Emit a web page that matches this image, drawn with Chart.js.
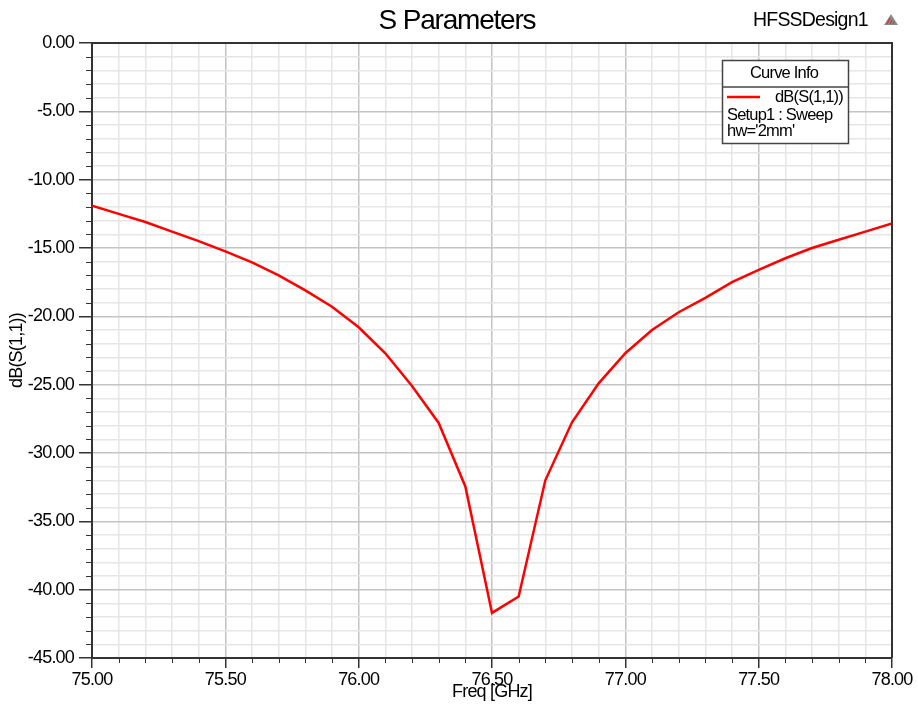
<!DOCTYPE html>
<html>
<head>
<meta charset="utf-8">
<title>S Parameters</title>
<script src="https://cdn.jsdelivr.net/npm/chart.js@4.4.1/dist/chart.umd.min.js"></script>
<style>
  html, body { margin: 0; padding: 0; background: #fff; }
  #chart { display: block; }
</style>
</head>
<body>
<canvas id="chart" width="918" height="704"></canvas>
<script>
// sweep points (GHz) and return loss (dB)
const freqGHz = [75.0, 75.1, 75.2, 75.3, 75.4, 75.5, 75.6, 75.7, 75.8, 75.9,
                 76.0, 76.1, 76.2, 76.3, 76.4, 76.5, 76.6, 76.7, 76.8, 76.9,
                 77.0, 77.1, 77.2, 77.3, 77.4, 77.5, 77.6, 77.7, 77.8, 77.9, 78.0];
const s11dB = [-11.9, -12.5, -13.1, -13.8, -14.5, -15.25, -16.05, -17.0, -18.1, -19.3,
               -20.8, -22.7, -25.1, -27.8, -32.45, -41.7, -40.5, -32.0, -27.75, -24.9,
               -22.7, -21.0, -19.7, -18.65, -17.5, -16.6, -15.75, -15.0, -14.4, -13.8, -13.2];

// ticks that carry a label; the rest are minor ticks
const xLabeledTicks = [75.0, 75.5, 76.0, 76.5, 77.0, 77.5, 78.0];
const yLabeledTicks = [0, -5, -10, -15, -20, -25, -30, -35, -40, -45];

const legendLines = ['dB(S(1,1))', 'Setup1 : Sweep', "hw='2mm'"];

const FONT = "'Liberation Sans', Arial, sans-serif";
const isLabeled = (list, v) => list.some(t => Math.abs(t - v) < 1e-6);

// HFSS-style text is drawn tight
const tightText = {
    id: 'tightText',
    beforeDraw(chart) {
        chart.ctx.letterSpacing = '-0.8px';
    }
};

const hfssDecor = {
    id: 'hfssDecor',
    afterDraw(chart) {
        const ctx = chart.ctx;
        const area = chart.chartArea;
        const xs = chart.scales.x;
        const ys = chart.scales.y;
        ctx.save();

        // minor ticks
        ctx.strokeStyle = '#333';
        ctx.lineWidth = 1;
        ctx.beginPath();
        xs.ticks.forEach(t => {
            if (isLabeled(xLabeledTicks, t.value)) return;
            const px = Math.round(xs.getPixelForValue(t.value)) + 0.5;
            ctx.moveTo(px, area.bottom);
            ctx.lineTo(px, area.bottom + 5);
        });
        ys.ticks.forEach(t => {
            if (isLabeled(yLabeledTicks, t.value)) return;
            const py = Math.round(ys.getPixelForValue(t.value)) + 0.5;
            ctx.moveTo(area.left - 6, py);
            ctx.lineTo(area.left, py);
        });
        ctx.stroke();

        // top and right frame
        ctx.strokeStyle = '#333';
        ctx.lineWidth = 2;
        ctx.beginPath();
        ctx.moveTo(area.left, area.top);
        ctx.lineTo(area.right, area.top);
        ctx.lineTo(area.right, area.bottom);
        ctx.stroke();

        // titles
        ctx.fillStyle = '#000';
        ctx.textBaseline = 'middle';
        ctx.textAlign = 'center';
        ctx.letterSpacing = '-1.2px';
        ctx.font = '28px ' + FONT;
        ctx.fillText('S Parameters', 457, 21);
        ctx.textAlign = 'left';
        ctx.letterSpacing = '-0.8px';
        ctx.font = '19.5px ' + FONT;
        ctx.fillText('HFSSDesign1', 753, 21);

        // logo
        ctx.fillStyle = '#8a8a8a';
        ctx.beginPath();
        ctx.moveTo(891, 14);
        ctx.lineTo(898, 25);
        ctx.lineTo(884, 25);
        ctx.closePath();
        ctx.fill();
        ctx.strokeStyle = '#e03030';
        ctx.lineWidth = 1.2;
        ctx.beginPath();
        ctx.moveTo(887, 24); ctx.lineTo(890, 18);
        ctx.moveTo(890, 24); ctx.lineTo(892, 20);
        ctx.moveTo(893, 24); ctx.lineTo(894, 22);
        ctx.stroke();

        // curve info box
        const bx = 722, by = 60, bw = 126, bh = 83;
        ctx.fillStyle = '#fff';
        ctx.fillRect(bx, by, bw, bh);
        ctx.strokeStyle = '#444';
        ctx.lineWidth = 1.5;
        ctx.strokeRect(bx + 0.5, by + 0.5, bw, bh);
        ctx.beginPath();
        ctx.moveTo(bx, by + 27);
        ctx.lineTo(bx + bw, by + 27);
        ctx.stroke();

        ctx.fillStyle = '#000';
        ctx.font = '16.5px ' + FONT;
        ctx.textAlign = 'center';
        ctx.fillText('Curve Info', bx + bw / 2 - 1, by + 13);
        ctx.strokeStyle = '#ff0000';
        ctx.lineWidth = 2.5;
        ctx.beginPath();
        ctx.moveTo(bx + 5, by + 37);
        ctx.lineTo(bx + 38, by + 37);
        ctx.stroke();
        ctx.textAlign = 'right';
        ctx.fillText(legendLines[0], bx + bw - 5, by + 37);
        ctx.textAlign = 'left';
        ctx.fillText(legendLines[1], bx + 5, by + 55);
        ctx.fillText(legendLines[2], bx + 5, by + 71);

        ctx.restore();
    }
};

new Chart(document.getElementById('chart'), {
    type: 'line',
    data: {
        datasets: [{
            label: 'dB(S(1,1))',
            data: freqGHz.map((f, i) => ({ x: f, y: s11dB[i] })),
            borderColor: '#ff0000',
            borderWidth: 2.5,
            pointRadius: 0,
            tension: 0,
            fill: false
        }]
    },
    options: {
        responsive: false,
        animation: false,
        layout: { padding: { top: 43, right: 26, left: 0, bottom: 0 } },
        plugins: {
            legend: { display: false },
            tooltip: { enabled: false }
        },
        scales: {
            x: {
                type: 'linear',
                min: 75,
                max: 78,
                afterFit: s => { s.height = 46; },
                ticks: {
                    stepSize: 0.1,
                    autoSkip: false,
                    maxRotation: 0,
                    padding: 1,
                    color: '#000',
                    font: { family: FONT, size: 18 },
                    callback: v => isLabeled(xLabeledTicks, v) ? v.toFixed(2) : ''
                },
                grid: {
                    color: c => isLabeled(xLabeledTicks, c.tick.value) ? '#c4c4c4' : '#e6e6e6',
                    lineWidth: 1.5,
                    tickLength: 10,
                    tickColor: c => isLabeled(xLabeledTicks, c.tick.value) ? '#333' : 'rgba(0,0,0,0)'
                },
                border: { color: '#333', width: 2 },
                title: {
                    display: true,
                    text: 'Freq [GHz]',
                    color: '#000',
                    font: { family: FONT, size: 18 },
                    padding: { top: 0, bottom: 1 }
                }
            },
            y: {
                min: -45,
                max: 0,
                afterFit: s => { s.width = 92; },
                ticks: {
                    stepSize: 1,
                    autoSkip: false,
                    padding: 5,
                    color: '#000',
                    font: { family: FONT, size: 18 },
                    callback: v => isLabeled(yLabeledTicks, v) ? v.toFixed(2) : ''
                },
                grid: {
                    color: c => isLabeled(yLabeledTicks, c.tick.value) ? '#c4c4c4' : '#e6e6e6',
                    lineWidth: 1.5,
                    tickLength: 13,
                    tickColor: c => isLabeled(yLabeledTicks, c.tick.value) ? '#333' : 'rgba(0,0,0,0)'
                },
                border: { color: '#333', width: 2 },
                title: {
                    display: true,
                    text: 'dB(S(1,1))',
                    color: '#000',
                    font: { family: FONT, size: 18 },
                    padding: { top: 6, bottom: 0 }
                }
            }
        }
    },
    plugins: [tightText, hfssDecor]
});
</script>
</body>
</html>
